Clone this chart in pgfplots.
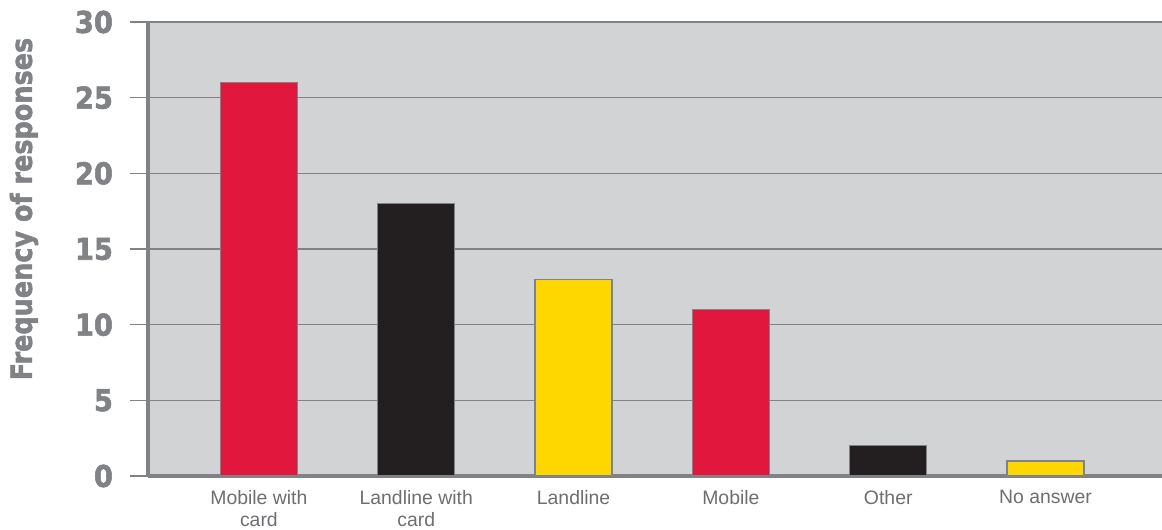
\documentclass[border=0pt]{standalone}
\usepackage{fontspec}
\usepackage{graphicx}
\setmainfont{Liberation Sans}
\newfontfamily\heavy{DejaVu Sans}[UprightFont={* Bold}, FakeBold=2]
\usepackage{pgfplots}
\pgfplotsset{compat=1.18}
\definecolor{bgg}{HTML}{D1D3D4}
\definecolor{gline}{HTML}{808285}
\definecolor{txtg}{HTML}{808285}
\definecolor{xtg}{HTML}{6D6E71}
\definecolor{cred}{HTML}{E2173D}
\definecolor{cblk}{HTML}{231F20}
\definecolor{cyel}{HTML}{FFD700}
\begin{document}
\begin{tikzpicture}
\begin{axis}[
  scale only axis,
  width=507pt, height=227pt,
  xmin=-0.705, xmax=5.74,
  ymin=0, ymax=30,
  ytick={0,5,...,30},
  xtick={0,1,2,3,4,5},
  xticklabels={{Mobile with\\card},{Landline with\\card},{Landline},{Mobile},{Other},{No answer}},
  axis x line*=bottom, axis y line*=left,
  axis line style={gline, line width=1.6pt, -},
  axis background/.style={fill=bgg},
  ymajorgrids, grid style={gline, line width=0.6pt},
  major tick length=9pt,
  tick align=outside,
  ytick style={gline, line width=0.6pt},
  xtick style={draw=none},
  /pgf/number format/assume math mode=true,
  yticklabel={\scalebox{0.91}[1]{\pgfmathprintnumber{\tick}}},
  yticklabel style={font=\fontsize{15}{16}\heavy, text=txtg, xshift=-5pt},
  xticklabel style={font=\fontsize{9.7}{11}\selectfont, text=xtg, align=center, yshift=5.5pt},
  ylabel={\scalebox{0.88}[1]{Frequency of responses}},
  every axis y label/.style={at={(axis description cs:0,0.588)}, xshift=-62pt, rotate=90, anchor=center},
  ylabel style={font=\fontsize{14.5}{16}\heavy, text=txtg},
  bar width=38.5pt,
  ybar, bar shift=0pt,
  clip=false,
]
\addplot[fill=cred, draw=gline, line width=0.7pt] coordinates {(0,26) (3,11)};
\addplot[fill=cblk, draw=gline, line width=0.7pt] coordinates {(1,18) (4,2)};
\addplot[fill=cyel, draw=gline, line width=0.7pt] coordinates {(2,13) (5,1)};
\end{axis}
\pgfresetboundingbox
\path (current axis.south west) ++(-74pt,-27pt);
\path (current axis.north east) ++(0pt,11pt);
\end{tikzpicture}
\end{document}
